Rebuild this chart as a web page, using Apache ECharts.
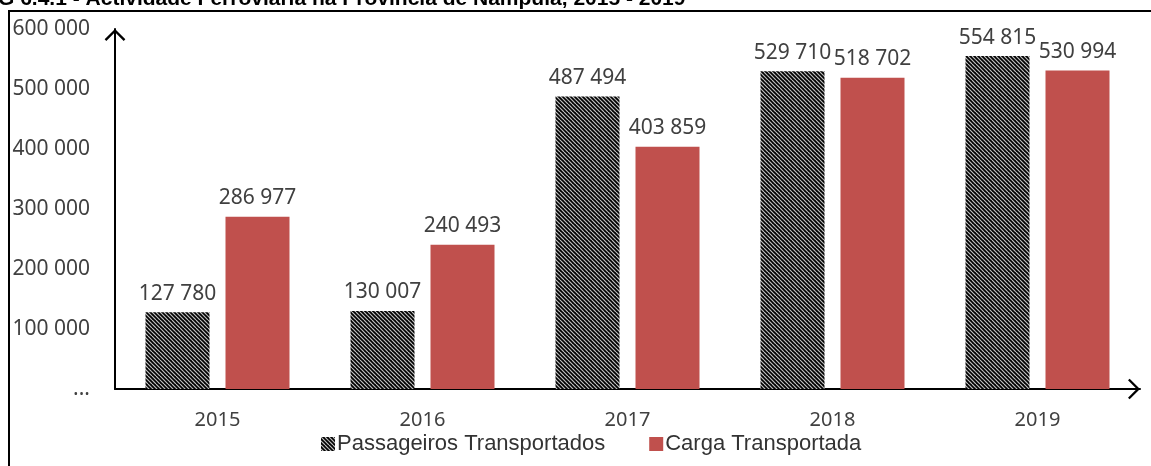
<!DOCTYPE html>
<html>
<head>
<meta charset="utf-8">
<script src="https://cdn.jsdelivr.net/npm/echarts@6/dist/echarts.min.js"></script>
<style>
  html, body { margin: 0; padding: 0; background: #fff; }
  #main { width: 1151px; height: 466px; }
</style>
</head>
<body>
<div id="main"></div>
<script>
var titleText = 'G 6.4.1 - Actividade Ferroviária na Província de Nampula, 2015 - 2019'
var years = ['2015', '2016', '2017', '2018', '2019']
var passageiros = [127780, 130007, 487494, 529710, 554815]
var carga = [286977, 240493, 403859, 518702, 530994]

// hatched fill for passengers
function makeHatch() {
  var c = document.createElement('canvas')
  c.width = 8
  c.height = 8
  var ctx = c.getContext('2d')
  ctx.fillStyle = '#000'
  ctx.fillRect(0, 0, 8, 8)
  ctx.strokeStyle = '#c0c0c0'
  ctx.lineWidth = 1.2
  for (var x = -8; x <= 8; x += 4) {
    ctx.beginPath()
    ctx.moveTo(x, 0)
    ctx.lineTo(x + 8, 8)
    ctx.stroke()
  }
  return c
}

function fmt(v) {
  return String(v).replace(/\B(?=(\d{3})+(?!\d))/g, ' ')
}

var arrow = 'path://M0,10 L10,0 L20,10 L18.4,11.6 L10,3.2 L1.6,11.6 Z'
var font = 'Noto Sans'

var chart = echarts.init(document.getElementById('main'))
chart.setOption({
  animation: false,
  graphic: [
    { type: 'text', left: -2, top: -11, style: { text: titleText, font: 'bold 21px "Liberation Sans"', fill: '#000' } },
    { type: 'line', shape: { x1: 9, y1: 11, x2: 1151, y2: 11 }, style: { stroke: '#000', lineWidth: 2 } },
    { type: 'line', shape: { x1: 9, y1: 10, x2: 9, y2: 466 }, style: { stroke: '#000', lineWidth: 2 } }
  ],
  grid: { left: 115, top: 29, width: 1025, height: 360, containLabel: false },
  legend: {
    left: 316,
    top: 428,
    itemWidth: 14,
    itemHeight: 14,
    itemGap: 44,
    icon: 'rect',
    textStyle: { fontFamily: 'Liberation Sans', fontSize: 22, color: '#333', padding: [0, 0, 0, -3] },
    data: ['Passageiros Transportados', 'Carga Transportada']
  },
  xAxis: {
    type: 'category',
    data: years,
    axisLine: { lineStyle: { color: '#000', width: 2 }, symbol: ['none', arrow], symbolSize: [22, 12], symbolOffset: [0, -6] },
    axisTick: { show: false },
    axisLabel: { margin: 21, fontFamily: font, fontSize: 20, color: '#404040' }
  },
  yAxis: {
    type: 'value',
    min: 0,
    max: 600000,
    interval: 100000,
    splitLine: { show: false },
    axisTick: { show: false },
    axisLine: { show: true, lineStyle: { color: '#000', width: 2 }, symbol: ['none', arrow], symbolSize: [22, 12], symbolOffset: [0, -6] },
    axisLabel: {
      margin: 25,
      fontFamily: font,
      fontSize: 21,
      color: '#404040',
      formatter: function (v) { return v === 0 ? '...' : fmt(v) }
    }
  },
  series: [
    {
      name: 'Passageiros Transportados',
      type: 'bar',
      data: passageiros,
      barWidth: 64,
      barGap: '25%',
      itemStyle: { color: { image: makeHatch(), repeat: 'repeat' } },
      label: { show: true, position: 'top', distance: 8, fontFamily: font, fontSize: 21, color: '#404040', formatter: function (p) { return fmt(p.value) } }
    },
    {
      name: 'Carga Transportada',
      type: 'bar',
      data: carga,
      barWidth: 64,
      itemStyle: { color: '#c0504d' },
      label: { show: true, position: 'top', distance: 8, fontFamily: font, fontSize: 21, color: '#404040', formatter: function (p) { return fmt(p.value) } }
    }
  ]
})
</script>
</body>
</html>
